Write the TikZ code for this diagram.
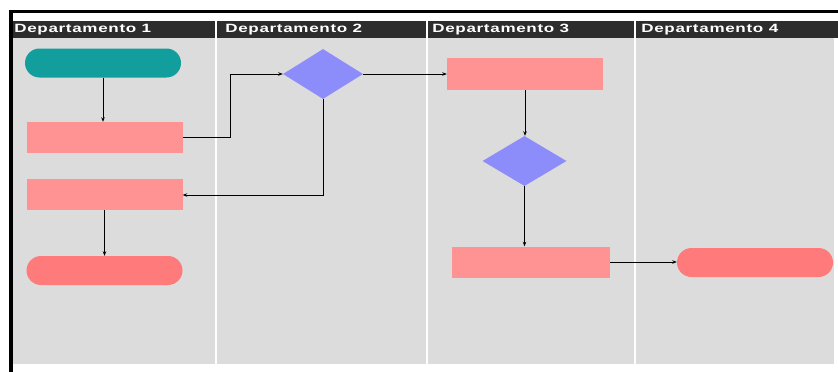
\documentclass[tikz,border=0pt]{standalone}
\usepackage{fontspec}
\setmainfont{Liberation Sans}
\usetikzlibrary{shapes.geometric,shapes.misc,arrows.meta}
\definecolor{lanebg}{RGB}{220,220,220}
\definecolor{headbg}{RGB}{45,45,45}
\definecolor{startc}{RGB}{18,158,156}
\definecolor{procc}{RGB}{255,146,146}
\definecolor{endc}{RGB}{255,122,122}
\definecolor{decc}{RGB}{140,140,250}
\tikzset{
  procbox/.style={rectangle, fill=procc, draw=none, minimum width=156pt, minimum height=31pt, inner sep=0pt},
  termbox/.style={rounded rectangle, draw=none, minimum width=156pt, minimum height=29pt, inner sep=0pt},
  decbox/.style={diamond, fill=decc, draw=none, minimum width=80pt, minimum height=50pt, inner sep=0pt},
  flow/.style={draw=black, line width=0.75pt, -{Stealth[length=4.5pt,width=3.5pt]}},
  lanehead/.style={anchor=west, text=white, inner sep=0pt,
    font=\fontsize{12}{12}\selectfont\bfseries\addfontfeatures{LetterSpace=4}, xscale=1.42},
}
\begin{document}
\begin{tikzpicture}[x=1pt,y=-1pt]
\useasboundingbox (0,0) rectangle (838,372);
\fill[white] (0,0) rectangle (838,372);
% lane body and header band
\fill[lanebg] (12,38) rectangle (834,364);
\fill[headbg] (12,21) rectangle (838,38);
% lane separators
\foreach \x in {216,426.5,635}
  \fill[white] (\x-1,21) rectangle (\x+1,364);
% outer frame
\fill[black] (9,9.5) rectangle (838,13);
\fill[black] (9,9.5) rectangle (12.5,372);
% lane titles
\node[lanehead] (h1) at (14,29.5) {Departamento 1};
\node[lanehead] (h2) at (225,29.5) {Departamento 2};
\node[lanehead] (h3) at (432,29.5) {Departamento 3};
\node[lanehead] (h4) at (641,29.5) {Departamento 4};
% shapes
\node[termbox, fill=startc] (start) at (103,63) {};
\node[procbox] (p1) at (104.5,137.5) {};
\node[procbox] (p2) at (104.5,194.5) {};
\node[termbox, fill=endc] (end1) at (104.5,270.5) {};
\node[decbox] (d1) at (323,74) {};
\node[procbox, minimum height=32pt] (p3) at (525,74) {};
\node[decbox, minimum width=84pt] (d2) at (524.5,161) {};
\node[procbox, minimum width=158pt] (p4) at (531,262) {};
\node[termbox, fill=endc] (end2) at (755,262.5) {};
\coordinate (k1) at (230,137.5);
\coordinate (k2) at (k1 |- d1.west);
\coordinate (k3) at (323,195);
% connectors
\draw[flow] (start.south) -- (p1.north -| start.south);
\draw[flow] (p1.east) -- (k1) -- (k2) -- (d1.west);
\draw[flow] (d1.east) -- (p3.west |- d1.east);
\draw[flow] (d1.south) -- (k3) -- (p2.east |- k3);
\draw[flow] (p2.south) -- (end1.north);
\draw[flow] (p3.south) -- (d2.north -| p3.south);
\draw[flow] (d2.south) -- (p4.north -| d2.south);
\draw[flow] (p4.east) -- (end2.west |- p4.east);
\end{tikzpicture}
\end{document}
